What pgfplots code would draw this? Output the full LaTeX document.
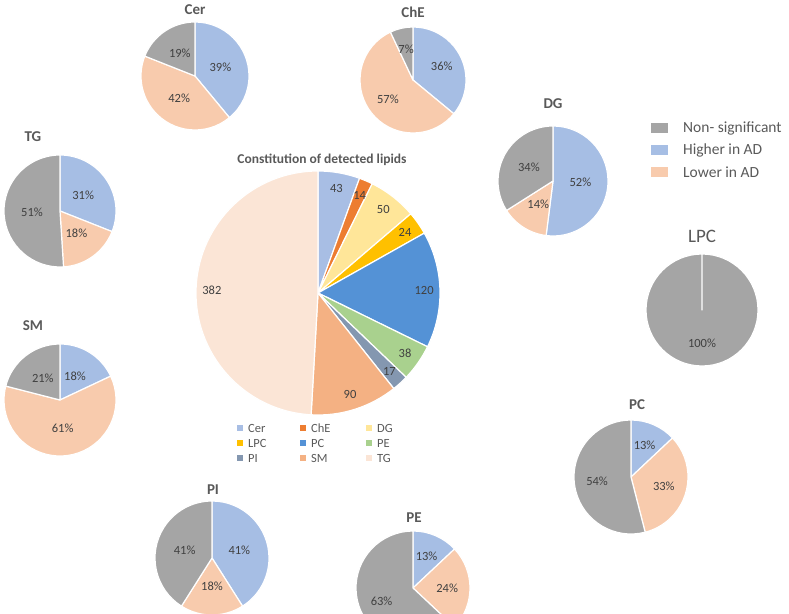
\documentclass[border=0pt]{standalone}
\usepackage{pgfplots}
\pgfplotsset{compat=1.18}
\usepackage{fontspec}
\setmainfont{Carlito}
\definecolor{hi}{RGB}{166,190,228}
\definecolor{lo}{RGB}{248,203,173}
\definecolor{ns}{RGB}{165,165,165}
\definecolor{cCer}{RGB}{168,190,228}
\definecolor{cChE}{RGB}{237,125,49}
\definecolor{cDG}{RGB}{255,230,153}
\definecolor{cLPC}{RGB}{255,192,0}
\definecolor{cPC}{RGB}{84,146,214}
\definecolor{cPE}{RGB}{169,209,142}
\definecolor{cPI}{RGB}{132,151,176}
\definecolor{cSM}{RGB}{244,177,131}
\definecolor{cTG}{RGB}{251,229,214}
\definecolor{txt}{RGB}{64,64,64}
\definecolor{ttl}{RGB}{89,89,89}
\tikzset{lab/.style={inner sep=0pt,text=txt,font=\fontsize{12.5}{14}\selectfont}}
% #1 cx, #2 cy, #3 r, #4 total, #5 label radius fraction, #6 label suffix, #7 list value/colour
\newcommand{\drawpie}[7]{%
  \xdef\cum{0}%
  \foreach \v/\c in {#7}{%
    \pgfmathsetmacro\aA{90-\cum/#4*360}%
    \pgfmathsetmacro\aB{90-(\cum+\v)/#4*360}%
    \edef\tmp{\noexpand\fill[\c, draw=white, line width=1.2pt, line join=round] (axis cs:#1,#2) -- ++(\aA:#3pt) arc[start angle=\aA, end angle=\aB, radius=#3pt] -- cycle;}%
    \tmp
    \pgfmathsetmacro\newcum{\cum+\v}%
    \xdef\cum{\newcum}%
  }%
  \xdef\cum{0}%
  \foreach \v/\c in {#7}{%
    \pgfmathsetmacro\aA{90-\cum/#4*360}%
    \pgfmathsetmacro\aB{90-(\cum+\v)/#4*360}%
    \pgfmathsetmacro\aM{(\aA+\aB)/2}%
    \pgfmathsetmacro\lx{#1+#5*#3*cos(\aM)}%
    \pgfmathsetmacro\ly{#2+#5*#3*sin(\aM)}%
    \edef\tmp{\noexpand\node[lab] at (axis cs:\lx,\ly) {\v#6};}%
    \tmp
    \pgfmathsetmacro\newcum{\cum+\v}%
    \xdef\cum{\newcum}%
  }%
}
\begin{document}
\begin{tikzpicture}
\useasboundingbox (0,0) rectangle (789pt,613pt);
\begin{axis}[x=1pt,y=1pt,xmin=0,xmax=789,ymin=0,ymax=613,hide axis,clip=false,
  anchor=origin,at={(0pt,0pt)}]
% main pie
\drawpie{318}{320}{122}{778}{0.87}{}{43/cCer,14/cChE,50/cDG,24/cLPC,120/cPC,38/cPE,17/cPI,90/cSM,382/cTG}
\node[text=ttl,font=\bfseries\fontsize{13.5}{15}\selectfont] at (axis cs:322,453) {Constitution of detected lipids};
% main legend
\foreach \n/\c/\x/\y in {Cer/cCer/240/185,ChE/cChE/303/185,DG/cDG/369/185,LPC/cLPC/240/170,PC/cPC/303/170,PE/cPE/369/170,PI/cPI/240/155,SM/cSM/303/155,TG/cTG/369/155}{
  \edef\tmp{\noexpand\fill[\c] (axis cs:\x-3,\y-3) rectangle (axis cs:\x+3,\y+3);
  \noexpand\node[anchor=west,inner sep=0pt,text=ttl,font=\noexpand\fontsize{12.5}{13}\noexpand\selectfont] at (axis cs:\x+8,\y) {\n};}
  \tmp
}
% small pies
\drawpie{195}{537}{54}{100}{0.5}{\%}{39/hi,42/lo,19/ns}
\drawpie{413}{533}{53}{100}{0.6}{\%}{36/hi,57/lo,7/ns}
\drawpie{553}{432}{55}{100}{0.5}{\%}{52/hi,14/lo,34/ns}
\drawpie{702}{303}{56}{100}{0.6}{\%}{100/ns}
\drawpie{631}{136}{57}{100}{0.6}{\%}{13/hi,33/lo,54/ns}
\drawpie{413}{25}{57}{100}{0.6}{\%}{13/hi,24/lo,63/ns}
\drawpie{212}{55}{57}{100}{0.5}{\%}{41/hi,18/lo,41/ns}
\drawpie{60}{213}{56}{100}{0.5}{\%}{18/hi,61/lo,21/ns}
\drawpie{60}{402}{56}{100}{0.5}{\%}{31/hi,18/lo,51/ns}
% titles
\foreach \n/\x/\y in {Cer/195/603,ChE/413/601,DG/553/509,PC/637/208,PE/414/95,PI/213/123,SM/33/287,TG/33/476}{
  \edef\tmp{\noexpand\node[text=ttl,font=\noexpand\bfseries\noexpand\fontsize{15}{17}\noexpand\selectfont] at (axis cs:\x,\y) {\n};}
  \tmp
}
\node[text=ttl,font=\fontsize{19}{21}\selectfont] at (axis cs:702,377) {LPC};
% right legend
\foreach \n/\c/\y in {Non- significant/ns/485,Higher in AD/hi/463,Lower in AD/lo/441}{
  \edef\tmp{\noexpand\fill[\c] (axis cs:651,\y-5) rectangle (axis cs:668,\y+5);
  \noexpand\node[anchor=west,inner sep=0pt,text=ttl,font=\noexpand\fontsize{15.5}{17}\noexpand\selectfont] at (axis cs:683,\y) {\n};}
  \tmp
}
\end{axis}
\end{tikzpicture}
\end{document}
